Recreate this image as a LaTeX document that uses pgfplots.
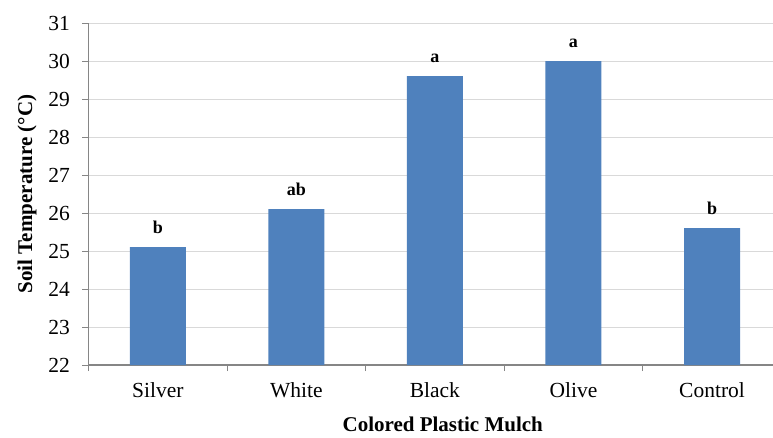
\documentclass[border=0pt]{standalone}
\usepackage{fontspec}
\setmainfont{Liberation Serif}
\usepackage{pgfplots}
\pgfplotsset{compat=1.18}
\definecolor{barblue}{HTML}{4F81BD}
\definecolor{axisgray}{HTML}{868686}
\definecolor{gridgray}{HTML}{D9D9D9}
\begin{document}
\begin{tikzpicture}
\useasboundingbox (0,0) rectangle (773pt,437pt);
\begin{axis}[
  at={(88.5pt,72pt)}, anchor=south west,
  scale only axis, width=684.5pt, height=342pt,
  xmin=-0.5, xmax=4.44, ymin=22, ymax=31,
  axis lines*=left,
  axis line style={axisgray, line width=1.5pt},
  ybar, bar width=0.404,
  ytick={22,...,31},
  ymajorgrids, grid style={gridgray, line width=1pt},
  xtick={0,...,4},
  xticklabels={Silver,White,Black,Olive,Control},
  minor xtick={-0.5,0.5,1.5,2.5,3.5},
  tick align=outside,
  major x tick style={draw=none},
  tick style={axisgray, line width=1pt},
  major tick length=6pt, minor tick length=6pt,
  /pgf/number format/assume math mode=true,
  ticklabel style={font=\fontsize{21.5}{24}\selectfont},
  yticklabel style={xshift=-9pt},
  xticklabel style={yshift=-8pt},
  label style={font=\bfseries\fontsize{21}{24}\selectfont},
  xlabel={Colored Plastic Mulch},
  ylabel={Soil Temperature (°C)},
  xlabel style={at={(axis description cs:0.5175,-0.1725)}, anchor=center},
  ylabel style={at={(axis description cs:-0.0898,0.5)}, anchor=center},
  point meta=explicit symbolic,
  nodes near coords,
  every node near coord/.append style={font=\bfseries\fontsize{18}{20}\selectfont, anchor=base, yshift=14pt},
]
\addplot[fill=barblue, draw=none] coordinates {
  (0,25.1) [b]
  (1,26.1) [ab]
  (2,29.6) [a]
  (3,30.0) [a]
  (4,25.6) [b]
};
\end{axis}
\end{tikzpicture}
\end{document}
